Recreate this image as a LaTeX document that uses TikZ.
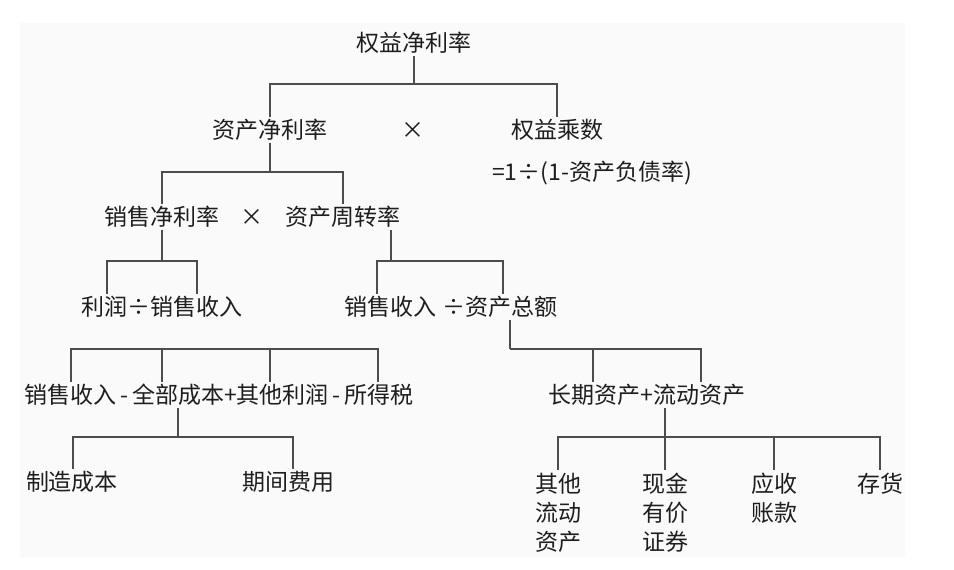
\documentclass[tikz,border=0pt]{standalone}
\usepackage{fontspec}
\setmainfont{Noto Sans CJK SC}
\usetikzlibrary{calc}
\definecolor{panelgray}{HTML}{FAFAFA}
\definecolor{linkgray}{HTML}{4D4D4D}
\definecolor{textdark}{HTML}{1E1E1E}

\begin{document}
\begin{tikzpicture}[
    x=1pt, y=-1pt,
    lbl/.style={text=textdark, font=\fontsize{23}{29}\selectfont, inner xsep=0, inner ysep=2.5pt},
    stack/.style={lbl, align=center, anchor=north, inner ysep=3pt},
    link/.style={draw=linkgray, line width=1.8pt}]
\useasboundingbox (0,0) rectangle (954,570);
\fill[panelgray] (20,23) rectangle (905,557);

% top levels
\node[lbl] (roe)  at (414,43)  {权益净利率};
\node[lbl] (ra)   at (270,130) {资产净利率};
\node[lbl] (x1)   at (413,130) {×};
\node[lbl] (em)   at (557,130) {权益乘数};
\node[lbl] (emf)  at (592,173) {=1÷(1-资产负债率)};
\node[lbl] (npm)  at (162,217) {销售净利率};
\node[lbl] (x2)   at (252,217) {×};
\node[lbl] (at)   at (343,217) {资产周转率};
\node[lbl] (npmf) at (162,307) {利润÷销售收入};
\node[lbl] (atf)  at (451,307) {销售收入 ÷资产总额};
\node[lbl] (pf)   at (219,395) {销售收入\,-\,全部成本+其他利润\,-\,所得税};
\node[lbl] (ta)   at (647,395) {长期资产+流动资产};
\node[lbl] (mc)   at (72,482)  {制造成本};
\node[lbl] (pc)   at (288,482) {期间费用};
\node[stack] (oca)  at (558,470) {其他\\流动\\资产};
\node[stack] (cash) at (665,470) {现金\\有价\\证券};
\node[stack] (ar)   at (774,470) {应收\\账款};
\node[stack] (inv)  at (880,470) {存货};

% bracket junctions
\coordinate (b1) at (414,84);
\coordinate (b2) at (270,172);
\coordinate (b3) at (162,261);
\coordinate (b4) at (391,261);
\coordinate (b5) at (510,349);
\coordinate (b8) at (219,349);
\coordinate (b6) at (178,437);
\coordinate (b7) at (665,437);

\draw[link] (roe.south) -- (b1);
\foreach \n in {ra,em} \draw[link] (\n.north) |- (b1);

\draw[link] (ra.south) -- (b2);
\foreach \n in {npm,at} \draw[link] (\n.north) |- (b2);

\draw[link] (npm.south) -- (b3);
\foreach \dx in {-55,35} \draw[link] ($(npmf.north)+(\dx,0)$) |- (b3);

\draw[link] ($(at.south)+(48,0)$) -- (b4);
\foreach \dx in {-74,52} \draw[link] ($(atf.north)+(\dx,0)$) |- (b4);

\draw[link] ($(atf.south)+(59,0)$) -- (b5);
\foreach \dx in {-54,54} \draw[link] ($(ta.north)+(\dx,0)$) |- (b5);

\foreach \dx in {-148,-57,51,159} \draw[link] ($(pf.north)+(\dx,0)$) |- (b8);

\draw[link] ($(pf.south)+(-41,0)$) -- (b6);
\draw[link] ($(mc.north)+(1,0)$) |- (b6);
\draw[link] ($(pc.north)+(5,0)$) |- (b6);

\draw[link] ($(ta.south)+(18,0)$) -- (b7);
\foreach \n in {oca,cash,ar,inv} \draw[link] (\n.north) |- (b7);

\end{tikzpicture}
\end{document}
